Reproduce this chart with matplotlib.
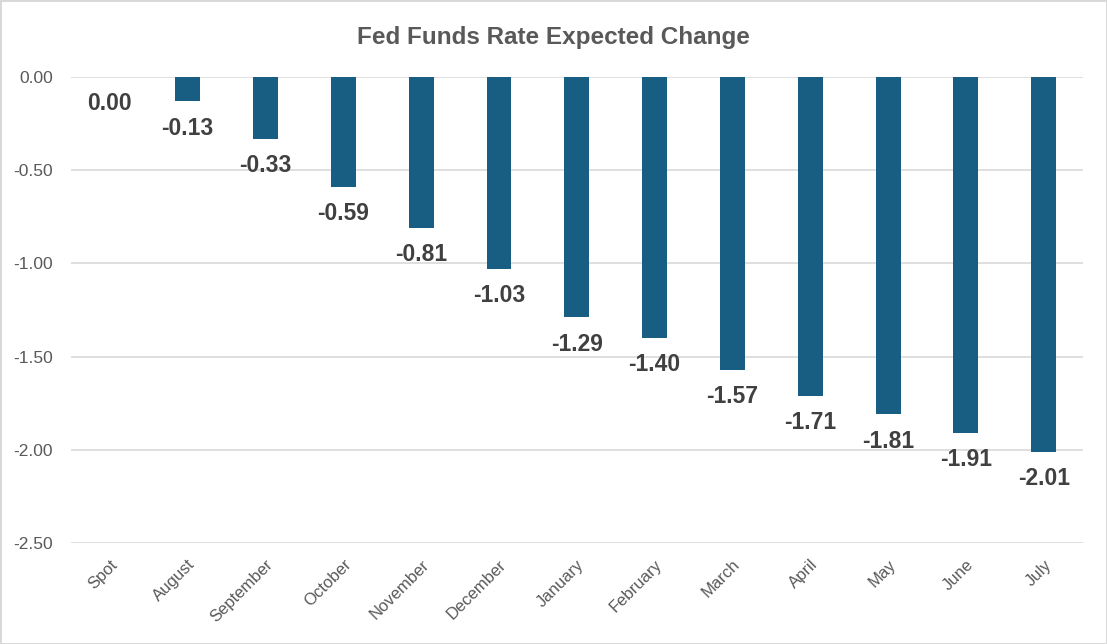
import matplotlib
matplotlib.use('Agg')
import matplotlib.pyplot as plt

months = ['Spot', 'August', 'September', 'October', 'November', 'December',
          'January', 'February', 'March', 'April', 'May', 'June', 'July']
change = [0.00, -0.13, -0.33, -0.59, -0.81, -1.03, -1.29, -1.40, -1.57,
          -1.71, -1.81, -1.91, -2.01]
yticks = [0.0, -0.5, -1.0, -1.5, -2.0, -2.5]

plt.rcParams['font.family'] = ['Liberation Sans', 'DejaVu Sans']

fig = plt.figure(figsize=(11.07, 6.44), dpi=100)
fig.patch.set_edgecolor('#d9d9d9')
fig.patch.set_linewidth(2)
ax = fig.add_axes([0.0641, 0.1568, 0.9139, 0.7236])

x = range(len(months))
ax.bar(x, change, width=0.32, color='#175e82', zorder=3)

for i, v in enumerate(change):
    ax.annotate(f'{v:.2f}', (i, v), xytext=(0, -11), textcoords='offset points',
                ha='center', va='top', fontsize=16.5, fontweight='bold',
                color='#404040', zorder=4)

ax.set_xlim(-0.5, len(months) - 0.5)
ax.set_ylim(-2.5, 0)
ax.set_yticks(yticks)
ax.set_yticklabels([f'{t:.2f}' for t in yticks])
ax.set_xticks(list(x))
ax.set_xticklabels(months, rotation=45, ha='right', rotation_mode='anchor')
ax.grid(axis='y', color='#d9d9d9', linewidth=1.2, zorder=0)
ax.tick_params(axis='both', length=0, colors='#595959')
ax.tick_params(axis='y', pad=13, labelsize=12.5)
ax.tick_params(axis='x', pad=10, labelsize=12)
for s in ax.spines.values():
    s.set_visible(False)

fig.text(0.5, 0.942, 'Fed Funds Rate Expected Change', ha='center', va='center',
         fontsize=17.5, fontweight='bold', color='#595959')

fig.savefig('out.png', dpi=100, edgecolor=fig.get_edgecolor())
